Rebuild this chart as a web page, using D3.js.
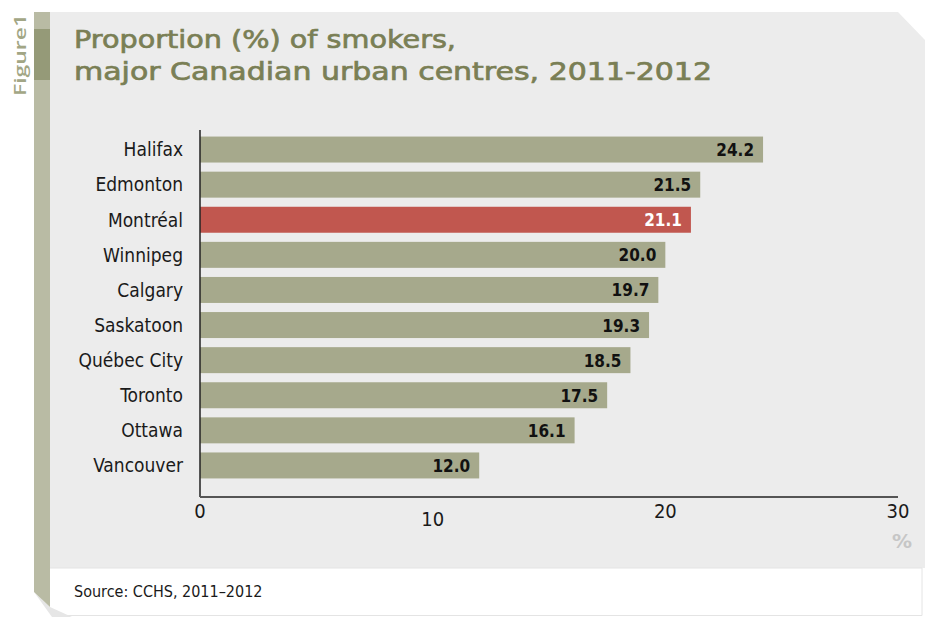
<!DOCTYPE html>
<html>
<head>
<meta charset="utf-8">
<script src="https://cdn.jsdelivr.net/npm/d3@7"></script>
<style>
  body { margin: 0; background: #fff; }
  svg { display: block; }
</style>
</head>
<body>
<svg id="chart" width="925" height="617"></svg>
<script>
const cities = ["Halifax", "Edmonton", "Montréal", "Winnipeg", "Calgary", "Saskatoon", "Québec City", "Toronto", "Ottawa", "Vancouver"];
const smokers = [24.2, 21.5, 21.1, 20.0, 19.7, 19.3, 18.5, 17.5, 16.1, 12.0];
const highlight = "Montréal";
const xTicks = [0, 10, 20, 30];
const titleLines = ["Proportion (%) of smokers,", "major Canadian urban centres, 2011-2012"];
const source = "Source: CCHS, 2011–2012";

const svg = d3.select("#chart");
const narrow = "'DejaVu Sans Condensed', 'Liberation Sans Narrow', sans-serif";

// background panel with cut top-right corner
svg.append("path")
  .attr("d", "M50,12 L898,12 L925,40 L925,568 L50,568 Z")
  .attr("fill", "#ececec");
// bottom white strip with faint border
svg.append("path")
  .attr("d", "M50,568 L922,568 L922,615.5 L62,615.5")
  .attr("fill", "#fff")
  .attr("stroke", "#e4e4e4")
  .attr("stroke-width", 1);
// shadow under left band
svg.append("path")
  .attr("d", "M34,592 L50,607 L72,617 L52,617 Z")
  .attr("fill", "#e6e6e6");
// left band
svg.append("path")
  .attr("d", "M34,12 L50,12 L50,607 L34,592 Z")
  .attr("fill", "#b9bba4");
svg.append("rect")
  .attr("x", 34).attr("y", 29).attr("width", 16).attr("height", 51)
  .attr("fill", "#959a78");

svg.append("text")
  .attr("transform", "translate(26,96) rotate(-90)")
  .attr("font-family", "'Open Sans', sans-serif")
  .attr("font-weight", 600)
  .attr("font-size", 17)
  .attr("fill", "#a2a685")
  .attr("textLength", 82)
  .attr("lengthAdjust", "spacingAndGlyphs")
  .text("Figure1");

// title
svg.append("g").selectAll("text")
  .data(titleLines)
  .join("text")
  .attr("x", 74)
  .attr("y", (d, i) => 48 + i * 32)
  .attr("font-family", "'DejaVu Sans', sans-serif")
  .attr("font-size", 25)
  .attr("fill", "#7a7f55")
  .attr("stroke", "#7a7f55")
  .attr("stroke-width", 0.7)
  .attr("textLength", (d, i) => i === 0 ? 382 : 638)
  .attr("lengthAdjust", "spacingAndGlyphs")
  .text(d => d);

const margin = { left: 200, right: 898, top: 132, bottom: 483 };
const x = d3.scaleLinear().domain([0, 30]).range([margin.left, margin.right]);
const y = d3.scaleBand().domain(cities).range([margin.top, margin.bottom]).paddingInner(0.26).paddingOuter(0.13);

const data = cities.map((c, i) => ({ city: c, value: smokers[i] }));

// bars
svg.append("g").selectAll("rect")
  .data(data)
  .join("rect")
  .attr("x", x(0))
  .attr("y", d => y(d.city))
  .attr("width", d => x(d.value) - x(0))
  .attr("height", y.bandwidth())
  .attr("fill", d => d.city === highlight ? "#c1574f" : "#a6a98c");

// value labels
svg.append("g").selectAll("text")
  .data(data)
  .join("text")
  .attr("x", d => x(d.value) - 9)
  .attr("y", d => y(d.city) + y.bandwidth() / 2)
  .attr("dy", "0.38em")
  .attr("text-anchor", "end")
  .attr("font-family", narrow)
  .attr("font-weight", "bold")
  .attr("font-size", 17)
  .attr("fill", d => d.city === highlight ? "#fff" : "#111")
  .text(d => d3.format(".1f")(d.value));

// category labels
svg.append("g").selectAll("text")
  .data(cities)
  .join("text")
  .attr("x", 183)
  .attr("y", d => y(d) + y.bandwidth() / 2)
  .attr("dy", "0.36em")
  .attr("text-anchor", "end")
  .attr("font-family", narrow)
  .attr("font-size", 19)
  .attr("fill", "#1a1a1a")
  .text(d => d);

// axes lines
svg.append("line")
  .attr("x1", x(0)).attr("x2", x(0))
  .attr("y1", 130).attr("y2", 497)
  .attr("stroke", "#222").attr("stroke-width", 1.5);
svg.append("line")
  .attr("x1", x(0)).attr("x2", x(30))
  .attr("y1", 497).attr("y2", 497)
  .attr("stroke", "#555").attr("stroke-width", 2);

// tick labels (the "10" sits a bit lower in the original)
svg.append("g").selectAll("text")
  .data(xTicks)
  .join("text")
  .attr("x", d => x(d))
  .attr("y", d => d === 10 ? 526 : 518)
  .attr("text-anchor", "middle")
  .attr("font-family", narrow)
  .attr("font-size", 20)
  .attr("fill", "#1a1a1a")
  .text(d => d);

svg.append("text")
  .attr("x", 912)
  .attr("y", 548)
  .attr("text-anchor", "end")
  .attr("font-family", "'DejaVu Sans', sans-serif")
  .attr("font-weight", "bold")
  .attr("font-size", 20)
  .attr("fill", "#c6c6c6")
  .text("%");

svg.append("text")
  .attr("x", 74)
  .attr("y", 597)
  .attr("font-family", narrow)
  .attr("font-size", 16)
  .attr("fill", "#1a1a1a")
  .text(source);
</script>
</body>
</html>
